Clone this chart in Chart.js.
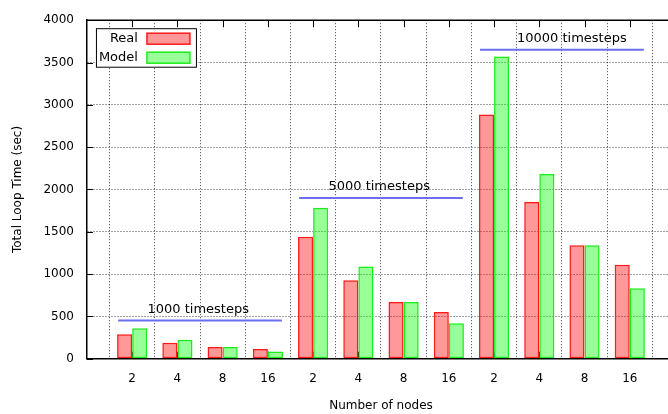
<!DOCTYPE html>
<html>
<head>
<meta charset="utf-8">
<script src="https://cdn.jsdelivr.net/npm/chart.js@4.4.0/dist/chart.umd.min.js"></script>
<style>
html, body { margin: 0; padding: 0; background: #fff; overflow: hidden; }
#myChart { display: block; }
</style>
</head>
<body>
<canvas id="myChart" width="688" height="414"></canvas>
<script>
// datos
var nodeLabels = ['2', '4', '8', '16'];
var groupNames = ['1000 timesteps', '5000 timesteps', '10000 timesteps'];
var realTimes = [290, 188, 137, 114, 1440, 926, 670, 553, 2885, 1851, 1341, 1109];
var modelTimes = [361, 224, 138, 86, 1785, 1090, 670, 420, 3570, 2184, 1341, 832];
var groupLevels = [450, 1900, 3650];
var yTicks = [0, 500, 1000, 1500, 2000, 2500, 3000, 3500, 4000];

// una categoria vacia a cada lado, como en gnuplot
var labels = [''];
groupNames.forEach(function () { labels = labels.concat(nodeLabels); });
labels.push('');
var realData = [null].concat(realTimes, [null]);
var modelData = [null].concat(modelTimes, [null]);

Chart.defaults.font.family = 'DejaVu Sans';
Chart.defaults.font.size = 12;
Chart.defaults.color = '#000';
Chart.defaults.animation = false;

// lineas azules y textos de cada grupo
var groupMarks = {
    id: 'groupMarks',
    afterDatasetsDraw: function (chart, args, opts) {
        var ctx = chart.ctx, x = chart.scales.x, y = chart.scales.y;
        var step = x.getPixelForValue(2) - x.getPixelForValue(1);
        ctx.save();
        groupNames.forEach(function (name, g) {
            var first = 1 + g * nodeLabels.length;
            var last = first + nodeLabels.length - 1;
            var x0 = x.getPixelForValue(first) - step * opts.reach;
            var x1 = x.getPixelForValue(last) + step * opts.reach;
            var yy = y.getPixelForValue(groupLevels[g]);
            ctx.strokeStyle = '#6c6cf0';
            ctx.lineWidth = 2;
            ctx.beginPath();
            ctx.moveTo(x0, yy);
            ctx.lineTo(x1, yy);
            ctx.stroke();
            var tx = x.getPixelForValue(1) + step * opts.textPos[g];
            ctx.fillStyle = '#000';
            ctx.font = '13px "DejaVu Sans"';
            ctx.textAlign = 'center';
            ctx.textBaseline = 'middle';
            ctx.fillText(name, tx, yy - 11);
        });
        ctx.restore();
    }
};

// borde superior, marcas hacia dentro y leyenda con recuadro
var frame = {
    id: 'frame',
    beforeDatasetsDraw: function (chart) {
        var ctx = chart.ctx, a = chart.chartArea, x = chart.scales.x, y = chart.scales.y;
        ctx.save();
        ctx.strokeStyle = '#000';
        ctx.lineWidth = 1;
        ctx.beginPath();
        for (var i = 1; i < labels.length - 1; i++) {
            var px = Math.round(x.getPixelForValue(i)) + 0.5;
            ctx.moveTo(px, a.top);
            ctx.lineTo(px, a.top + 7);
            ctx.moveTo(px, a.bottom);
            ctx.lineTo(px, a.bottom - 7);
        }
        yTicks.forEach(function (v) {
            var py = Math.round(y.getPixelForValue(v)) + 0.5;
            ctx.moveTo(a.left, py);
            ctx.lineTo(a.left + 6, py);
        });
        ctx.stroke();
        ctx.lineWidth = 1.5;
        ctx.beginPath();
        ctx.moveTo(a.left, a.top);
        ctx.lineTo(a.right, a.top);
        ctx.stroke();
        ctx.restore();
    },
    afterDraw: function (chart) {
        var ctx = chart.ctx, a = chart.chartArea;
        var bx = a.left + 9, by = a.top + 8;
        ctx.save();
        ctx.fillStyle = '#fff';
        ctx.fillRect(bx, by, 100, 38.5);
        ctx.strokeStyle = '#000';
        ctx.lineWidth = 1;
        ctx.strokeRect(bx + 0.5, by + 0.5, 100, 38.5);
        ctx.font = '13px "DejaVu Sans"';
        ctx.textAlign = 'right';
        ctx.textBaseline = 'middle';
        chart.data.datasets.forEach(function (ds, i) {
            var cy = by + 10.5 + i * 19;
            ctx.fillStyle = '#000';
            ctx.fillText(ds.label, bx + 42, cy);
            ctx.fillStyle = ds.backgroundColor;
            ctx.fillRect(bx + 51, cy - 5.5, 43, 11);
            ctx.strokeStyle = ds.borderColor;
            ctx.lineWidth = 1.5;
            ctx.strokeRect(bx + 51, cy - 5.5, 43, 11);
        });
        ctx.restore();
    }
};

var ctx = document.getElementById('myChart').getContext('2d');
var myChart = new Chart(ctx, {
    type: 'bar',
    data: {
        labels: labels,
        datasets: [{
            label: 'Real',
            data: realData,
            backgroundColor: 'rgba(255, 0, 0, 0.4)',
            borderColor: '#ff1a1a',
            borderWidth: 1.5,
            borderSkipped: false,
            categoryPercentage: 0.667,
            barPercentage: 1
        }, {
            label: 'Model',
            data: modelData,
            backgroundColor: 'rgba(0, 255, 0, 0.4)',
            borderColor: '#1aee1a',
            borderWidth: 1.5,
            borderSkipped: false,
            categoryPercentage: 0.667,
            barPercentage: 1
        }]
    },
    options: {
        responsive: false,
        layout: { padding: { top: 19, right: 2, bottom: 0.5, left: 7 } },
        plugins: {
            legend: { display: false },
            tooltip: { enabled: false },
            groupMarks: { reach: 0.31, textPos: [1.46, 5.46, 9.72] }
        },
        scales: {
            x: {
                offset: false,
                grid: {
                    color: 'rgba(0,0,0,0.75)',
                    lineWidth: 1,
                    drawTicks: false
                },
                border: { display: true, color: '#000', width: 1.5, dash: [1, 2] },
                ticks: { padding: 13, autoSkip: false, maxRotation: 0 },
                title: { display: true, text: 'Number of nodes', padding: { top: 0, bottom: 0 } }
            },
            y: {
                min: 0,
                max: 4000,
                afterBuildTicks: function (scale) {
                    scale.ticks = yTicks.map(function (v) { return { value: v }; });
                },
                grid: {
                    color: 'rgba(0,0,0,0.75)',
                    lineWidth: 1,
                    drawTicks: false
                },
                border: { display: true, color: '#000', width: 1.5, dash: [1, 2] },
                ticks: {
                    padding: 13,
                    callback: function (value) { return String(value); }
                },
                title: { display: true, text: 'Total Loop Time (sec)', padding: { top: 4, bottom: 5 } }
            }
        }
    },
    plugins: [groupMarks, frame]
});
</script>
</body>
</html>
